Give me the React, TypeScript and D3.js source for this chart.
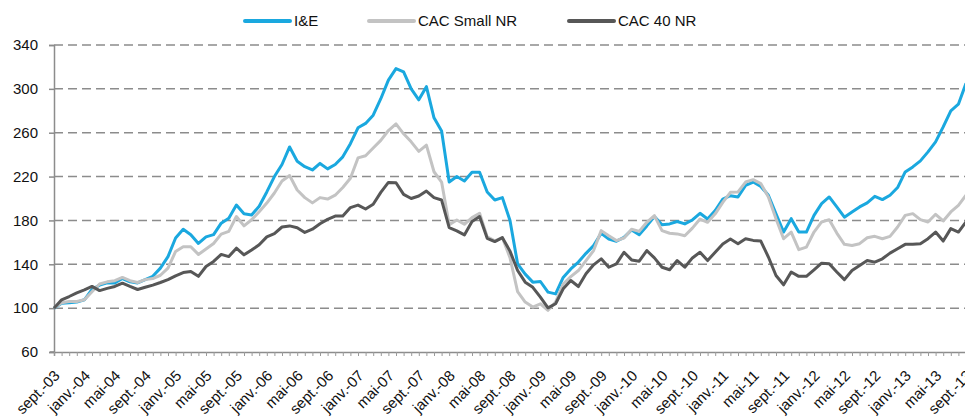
import { useEffect, useRef } from 'react';
import * as d3 from 'd3';

// Monthly index values, sept. 2003 = 100, through sept. 2013
const ieValues = [
  100, 104.5, 105, 105.5, 107.6, 117, 121, 123, 123, 127,
  124, 123, 126, 129, 136.5, 147, 164, 172, 167, 159,
  165, 167, 177.5, 182, 194, 186, 185, 193, 206, 220,
  231, 247, 234, 229, 226, 232, 227, 231, 238, 250,
  264.5, 268.5, 276, 291, 308, 318.5, 315.5, 300, 290, 302,
  273.6, 261.5, 215, 220, 216, 224, 224, 206, 198.6, 200.8,
  180, 140.4, 131, 123.7, 124.3, 114.6, 113, 128, 135.8, 142,
  150, 157, 168.3, 163, 161, 164.6, 171.3, 167, 175, 183.5,
  176, 176.8, 179, 176.8, 180.4, 186.5, 181.3, 189, 199.5, 202.6,
  201.4, 212, 215, 211, 203, 186, 169.4, 181.6, 169.4, 169.4,
  184.6, 195.3, 201.4, 192.3, 183, 187.7, 192.3, 196, 202, 199,
  203, 210, 224.2, 228.8, 234.3, 242.5, 251.6, 265.3, 280, 286, 305,
];

const cacSmallValues = [
  100, 105, 106, 106, 107.6, 115, 122, 124, 125, 128,
  125, 123.4, 126, 127, 130, 136.5, 151.7, 156, 156, 149,
  154, 159, 167.5, 170, 183.6, 175, 180.6, 188, 195.8, 205,
  216, 221, 207.7, 200.8, 196, 200.8, 199.5, 203, 210, 218.4,
  237, 239, 246, 253, 262, 268, 259, 251.7, 243, 248.7,
  224.4, 215, 176, 180.4, 176.5, 182.6, 186.5, 165, 161.3, 164.3,
  146, 115, 105.5, 101, 104, 98, 105.5, 122, 128.8, 134.3,
  143.4, 152.5, 170.7, 166, 161.6, 164, 172, 170, 178.3, 184.4,
  170.7, 168.3, 167.7, 166, 173, 181.3, 178.3, 186, 196.5, 205.6,
  206, 215, 217.2, 213.6, 201.4, 181.6, 163.3, 169.4, 153.3, 155.7,
  169.4, 178.6, 180.7, 168.5, 158.2, 157.2, 158.8, 164.2, 165.5, 163.3,
  165.5, 174, 184.6, 186.2, 180.7, 178.6, 185.6, 179.5, 187.7, 193.8, 203,
];

const cac40Values = [
  100, 107.6, 110.6, 114, 116.7, 119.8, 116, 118, 119.8, 122.8,
  119.8, 117, 119, 121, 123.4, 126, 129.5, 132.5, 133.4, 129,
  138, 142.6, 149, 147, 154.7, 148.6, 153, 157.8, 165, 168,
  174, 175, 173.4, 169, 172, 177, 181, 184, 184, 191.7,
  194, 190.4, 194.7, 205.6, 214.7, 214.4, 203.8, 200, 202.3, 206.8,
  200.8, 198.6, 173.4, 170.4, 166.8, 179, 183.5, 163.7, 160.7, 164.3,
  152, 134.3, 123.7, 119, 110, 100.3, 104, 117.6, 125.2, 119.7,
  131.3, 139.5, 145, 137.3, 140.4, 151, 144, 142.8, 152.5, 145.8,
  137.3, 135, 143.4, 137.3, 145.8, 151, 143.4, 151, 158.6, 163,
  158.8, 163.3, 161.8, 161.2, 146.6, 129.8, 121.3, 133, 129, 129,
  135, 141, 140.5, 133, 126, 134.4, 139, 143.5, 142, 145,
  150.2, 154.2, 158.2, 158.2, 158.8, 163.3, 169.4, 161.2, 172.5, 169.4, 178.6,
];

const seriesNames = ['I&E', 'CAC Small NR', 'CAC 40 NR'];
const seriesColors = ['#1aa8df', '#c3c3c3', '#575757'];
const yTicks = [60, 100, 140, 180, 220, 260, 300, 340];
const monthNames = ['sept.', 'janv.', 'mai'];

// one label every 4 months: sept.-03, janv.-04, mai-04, ...
const tickLabels = d3.range(0, 121, 4).map((m, k) => {
  const month = monthNames[k % 3];
  const year = 3 + Math.floor((m + 8) / 12);
  return { index: m, text: `${month}-${String(year).padStart(2, '0')}` };
});

const App = () => {
  const chartRef = useRef<SVGSVGElement | null>(null);

  useEffect(() => {
    if (!chartRef.current) return;
    d3.select(chartRef.current).selectAll('*').remove();

    const width = 965;
    const height = 419;
    const left = 54;
    const right = 966;
    const top = 45;
    const bottom = 352;

    const svg = d3.select(chartRef.current)
      .attr('width', width)
      .attr('height', height)
      .style('font-family', 'Liberation Sans, Arial, sans-serif');

    const x = d3.scaleLinear().domain([0, 120]).range([left, right]);
    const y = d3.scaleLinear().domain([60, 340]).range([bottom, top]);

    // Dashed gridlines
    svg.append('g')
      .selectAll('line')
      .data(yTicks.filter(t => t > 60))
      .enter()
      .append('line')
      .attr('x1', left)
      .attr('x2', width)
      .attr('y1', d => y(d))
      .attr('y2', d => y(d))
      .attr('stroke', '#8c8c8c')
      .attr('stroke-width', 1.5)
      .attr('stroke-dasharray', '9,5');

    // Y axis
    const yAxis = svg.append('g')
      .attr('transform', `translate(${left},0)`)
      .call(d3.axisLeft(y).tickValues(yTicks).tickSize(5).tickPadding(11));
    yAxis.select('.domain').attr('stroke', '#8c8c8c').attr('stroke-width', 1.5);
    yAxis.selectAll('.tick line').attr('stroke', '#8c8c8c').attr('stroke-width', 1.5);
    yAxis.selectAll('text')
      .style('font-size', '15px')
      .attr('fill', '#111');

    // X axis with a tick every month
    const xAxis = svg.append('g')
      .attr('transform', `translate(0,${bottom})`)
      .call(d3.axisBottom(x).tickValues(d3.range(0, 121)).tickSize(4).tickFormat(() => ''));
    xAxis.select('.domain').attr('stroke', '#8c8c8c').attr('stroke-width', 1.5);
    xAxis.selectAll('.tick line').attr('stroke', '#9a9a9a').attr('stroke-width', 1);
    svg.append('line')
      .attr('x1', left - 4)
      .attr('x2', left)
      .attr('y1', bottom)
      .attr('y2', bottom)
      .attr('stroke', '#8c8c8c')
      .attr('stroke-width', 1.5);

    svg.append('g')
      .selectAll('text')
      .data(tickLabels)
      .enter()
      .append('text')
      .attr('transform', d => `translate(${x(d.index) + 3},${bottom + 21}) rotate(-45)`)
      .attr('text-anchor', 'end')
      .attr('dy', '0.35em')
      .style('font-size', '15px')
      .attr('fill', '#111')
      .text(d => d.text);

    // Lines
    const line = d3.line<number>()
      .x((_, i) => x(i))
      .y(d => y(d));

    const allSeries = [ieValues, cacSmallValues, cac40Values];
    svg.append('g')
      .selectAll('path')
      .data(allSeries)
      .enter()
      .append('path')
      .attr('d', d => line(d))
      .attr('fill', 'none')
      .attr('stroke', (_, i) => seriesColors[i])
      .attr('stroke-width', 3)
      .attr('stroke-linejoin', 'round');

    // Legend
    const legendX = [245, 369, 569];
    const legend = svg.append('g')
      .selectAll('g')
      .data(seriesNames)
      .enter()
      .append('g')
      .attr('transform', (_, i) => `translate(${legendX[i]},21)`);
    legend.append('line')
      .attr('x1', 0)
      .attr('x2', 45)
      .attr('stroke', (_, i) => seriesColors[i])
      .attr('stroke-width', 4)
      .attr('stroke-linecap', 'round');
    legend.append('text')
      .attr('x', 49)
      .attr('dy', '0.35em')
      .style('font-size', '15px')
      .attr('fill', '#111')
      .text(d => d);
  }, []);

  return (
    <div>
      <svg ref={chartRef} style={{ position: 'absolute', left: 0, top: 0 }}></svg>
    </div>
  );
};

export default App;
